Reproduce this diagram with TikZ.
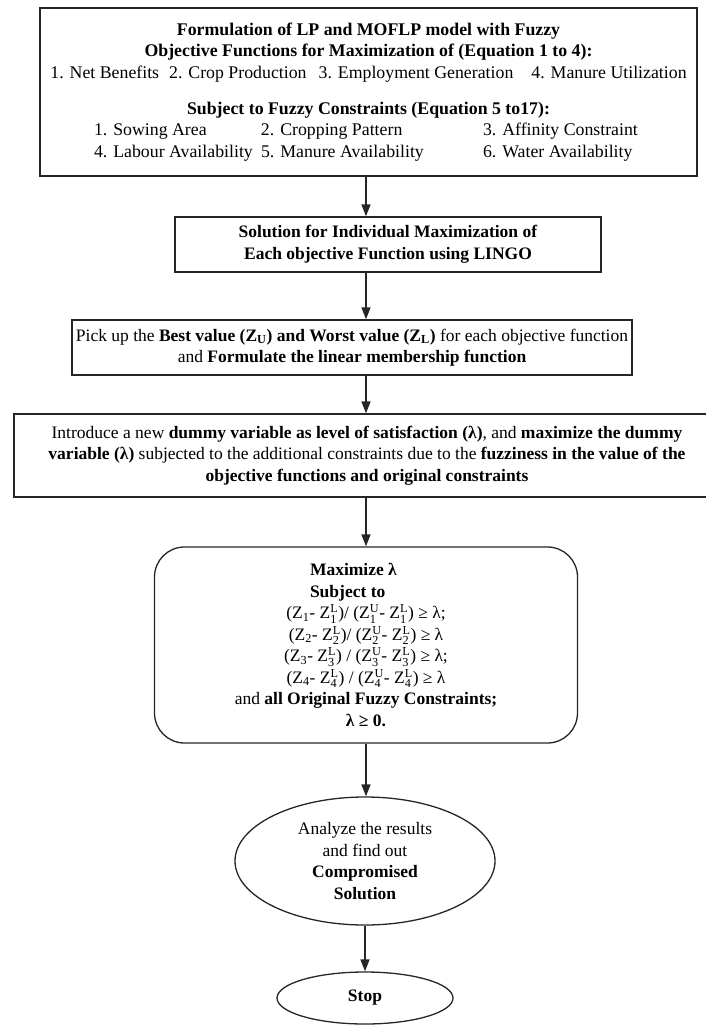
\documentclass[tikz,border=0pt]{standalone}
\usepackage{fontspec}
\setmainfont{Liberation Serif}
\usetikzlibrary{positioning, arrows.meta, shapes.geometric}
\newcommand{\zsl}[2]{$\mathrm{Z}_{\mathrm{#1}}^{\mathrm{#2}}$}
\newcommand{\zs}[1]{$\mathrm{Z}_{\mathrm{#1}}$}

\begin{document}
\begin{tikzpicture}[x=1pt, y=-1pt,
    box/.style={draw=black!85, line width=1.3pt, align=center, inner sep=0pt,
        font=\fontsize{17.5}{21.5}\selectfont},
    arr/.style={-{Triangle[length=12pt, width=9pt]}, line width=1.6pt, black!85}]
    \useasboundingbox (0,0) rectangle (705,1028);
    % Model formulation
    \node[box, font=\fontsize{17.8}{21.7}\selectfont, minimum width=657pt, minimum height=168pt] (form) at (368.5,92)
        {\textbf{Formulation of LP and MOFLP model with Fuzzy}\\
         \textbf{Objective Functions for Maximization of (Equation 1 to 4):}\\
         1. Net Benefits\hspace{10pt}2. Crop Production\hspace{12pt}3. Employment Generation\hspace{18pt}4. Manure Utilization\\[14pt]
         \textbf{Subject to Fuzzy Constraints (Equation 5 to17):}\\
         \makebox[167pt][l]{1. Sowing Area}\makebox[222pt][l]{2. Cropping Pattern}\makebox[160pt][l]{3. Affinity Constraint}\\
         \makebox[167pt][l]{4. Labour Availability}\makebox[222pt][l]{5. Manure Availability}\makebox[160pt][l]{6. Water Availability}};
    % Individual solution
    \node[box, minimum width=426pt, minimum height=55pt] (sol) at (388,244.5)
        {\textbf{Solution for Individual Maximization of}\\
         \textbf{Each objective Function using LINGO}};
    % Best and worst values
    \node[box, minimum width=560pt, minimum height=55pt] (pick) at (352,347.5)
        {Pick up the \textbf{Best value (Z\textsubscript{U}) and Worst value (Z\textsubscript{L})} for each objective function\\
         and \textbf{Formulate the linear membership function}};
    % Dummy variable
    \node[box, minimum width=706pt, minimum height=83pt] (dummy) at (367,455.5)
        {Introduce a new \textbf{dummy variable as level of satisfaction (λ)}, and \textbf{maximize the dummy}\\
         \textbf{variable (λ)} subjected to the additional constraints due to the \textbf{fuzziness in the value of the}\\
         \textbf{objective functions and original constraints}};
    % Max lambda model
    \node[box, rounded corners=30pt, minimum width=423pt, minimum height=196pt] (maxl) at (366,645)
        {\makebox[112pt][l]{\textbf{Maximize λ}}\\
         \makebox[112pt][l]{\textbf{Subject to}}\\
         (\zs{1}- \zsl{1}{L})/ (\zsl{1}{U}- \zsl{1}{L}) ≥ λ;\\
         (\zs{2}- \zsl{2}{L})/ (\zsl{2}{U}- \zsl{2}{L}) ≥ λ\\
         (\zs{3}- \zsl{3}{L}) / (\zsl{3}{U}- \zsl{3}{L}) ≥ λ;\\
         (\zs{4}- \zsl{4}{L}) / (\zsl{4}{U}- \zsl{4}{L}) ≥ λ\\
         and \textbf{all Original Fuzzy Constraints;}\\
         \textbf{λ ≥ 0.}};
    % Results
    \node[box, ellipse, minimum width=260pt, minimum height=128pt] (res) at (365,861)
        {Analyze the results\\ and find out\\ \textbf{Compromised}\\ \textbf{Solution}};
    \node[box, ellipse, minimum width=176pt, minimum height=52pt] (stop) at (365,998)
        {\textbf{Stop}};
    % Arrows
    \draw[arr] (form.south -| maxl) -- (sol.north -| maxl);
    \draw[arr] (sol.south -| maxl) -- (pick.north -| maxl);
    \draw[arr] (pick.south -| maxl) -- (dummy.north -| maxl);
    \draw[arr] (dummy.south -| maxl) -- (maxl.north);
    \draw[arr] (maxl.south) -- (maxl.south |- res.north);
    \draw[arr] (res.south) -- (stop.north);
\end{tikzpicture}
\end{document}
